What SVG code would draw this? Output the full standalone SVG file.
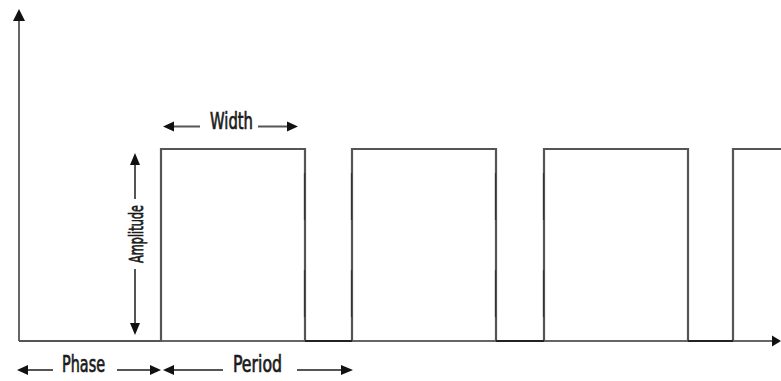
<svg xmlns="http://www.w3.org/2000/svg" width="781" height="381" viewBox="0 0 781 381">
<style>
.axis{stroke:#666;stroke-width:2;fill:none}
.wave{stroke:#555;stroke-width:2.2;fill:none;stroke-linejoin:miter}
.low{stroke:#222;stroke-width:2.2;fill:none}
.dark{stroke:#333;stroke-width:1.2;fill:none}
.dim{stroke:#555;stroke-width:2;fill:none}
.head{fill:#111}
.lbl{font-family:"DejaVu Sans Condensed","DejaVu Sans",sans-serif;font-size:23px;font-weight:normal;fill:#1a1a1a;stroke:#1a1a1a;stroke-width:0.7}
</style>
<rect width="781" height="381" fill="#fff"/>
<g id="axes">
<line class="axis" x1="19" y1="20" x2="19" y2="341"/>
<polygon class="head" points="19,9 13,21 25,21"/>
<line class="axis" x1="19" y1="341" x2="774" y2="341"/>
<polygon class="head" points="781,341 772,335.5 772,346.5"/>
</g>
<g id="waveform">
<polyline class="wave" points="19,341 161,341 161,149 305,149 305,341"/>
<polyline class="wave" points="352,341 352,149 496,149 496,341"/>
<polyline class="wave" points="544,341 544,149 688,149 688,341"/>
<polyline class="wave" points="733,341 733,149 781,149"/>
<line class="low" x1="305" y1="341" x2="352" y2="341"/>
<line class="low" x1="496" y1="341" x2="544" y2="341"/>
<line class="low" x1="688" y1="341" x2="733" y2="341"/>
<g class="dark">
<line x1="304.5" y1="173" x2="304.5" y2="220"/>
<line x1="304.5" y1="270" x2="304.5" y2="317"/>
<line x1="351.5" y1="173" x2="351.5" y2="220"/>
<line x1="351.5" y1="270" x2="351.5" y2="317"/>
<line x1="495.5" y1="173" x2="495.5" y2="220"/>
<line x1="495.5" y1="270" x2="495.5" y2="317"/>
<line x1="543.5" y1="173" x2="543.5" y2="220"/>
<line x1="543.5" y1="270" x2="543.5" y2="317"/>
</g>
</g>
<g id="width-label">
<line class="dim" x1="172" y1="126.5" x2="200" y2="126.5"/>
<polygon class="head" points="163,126.5 174,121.5 174,131.5"/>
<line class="dim" x1="258" y1="126.5" x2="288" y2="126.5"/>
<polygon class="head" points="298,126.5 287,121.5 287,131.5"/>
<text class="lbl" x="210" y="129" textLength="43" lengthAdjust="spacingAndGlyphs">Width</text>
</g>
<g id="amplitude-label">
<line class="dim" x1="135" y1="163" x2="135" y2="199"/>
<polygon class="head" points="135,153 130,165 140,165"/>
<line class="dim" x1="135" y1="269" x2="135" y2="324"/>
<polygon class="head" points="135,335 130,323 140,323"/>
<text class="lbl" transform="translate(143,234) rotate(-90)" x="0" y="0" text-anchor="middle" style="font-size:20px" textLength="58" lengthAdjust="spacingAndGlyphs">Amplitude</text>
</g>
<g id="phase-label">
<line class="dim" x1="27" y1="370" x2="53" y2="370"/>
<polygon class="head" points="17,370 28,365 28,375"/>
<line class="dim" x1="117" y1="370" x2="151" y2="370"/>
<polygon class="head" points="161,370 150,365 150,375"/>
<text class="lbl" x="62" y="372" textLength="43" lengthAdjust="spacingAndGlyphs">Phase</text>
</g>
<g id="period-label">
<line class="dim" x1="172" y1="370" x2="223" y2="370"/>
<polygon class="head" points="163,370 174,365 174,375"/>
<line class="dim" x1="297" y1="370" x2="342" y2="370"/>
<polygon class="head" points="353,370 341,365 341,375"/>
<text class="lbl" x="233" y="372" textLength="49" lengthAdjust="spacingAndGlyphs">Period</text>
</g>
</svg>
